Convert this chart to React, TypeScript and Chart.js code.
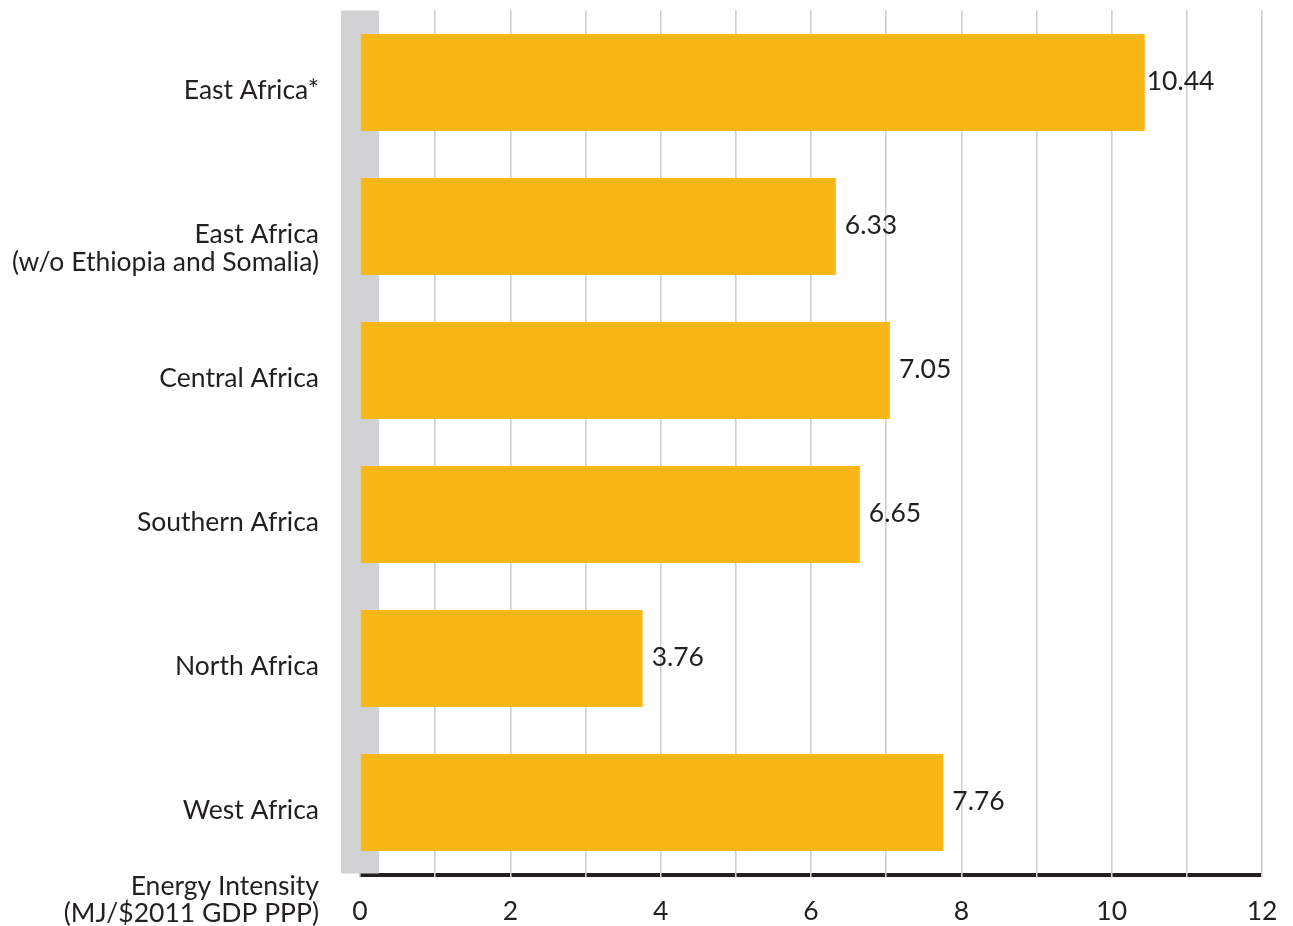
import React, { useEffect, useRef } from "react";
import { Chart, registerables } from "chart.js";

Chart.register(...registerables);

const categories: string[][] = [
  ["East Africa*"],
  ["East Africa", "(w/o Ethiopia and Somalia)"],
  ["Central Africa"],
  ["Southern Africa"],
  ["North Africa"],
  ["West Africa"],
];
const values: number[] = [10.44, 6.33, 7.05, 6.65, 3.76, 7.76];
const valueLabels: string[] = ["10.44", "6.33", "7.05", "6.65", "3.76", "7.76"];
const axisTitle: string[] = ["Energy Intensity", "(MJ/$2011 GDP PPP)"];
const xMin = 0;
const xMax = 12;

const FONT = "Lato, 'Noto Sans', sans-serif";
const FS = 26.5;
const TEXT = "#231f20";
const BAR = "#fbb617";
const BAND = "#d1d2d4";
const GRID = "#cfcfcf";

const customPlugin = {
  id: "custom",
  beforeDraw(chart: any) {
    const { ctx, chartArea, scales } = chart;
    const x = scales.x;
    ctx.save();
    ctx.strokeStyle = TEXT;
    ctx.lineWidth = 4;
    ctx.beginPath();
    ctx.moveTo(x.getPixelForValue(xMin), chartArea.bottom + 0.5);
    ctx.lineTo(x.getPixelForValue(xMax), chartArea.bottom + 0.5);
    ctx.stroke();
    ctx.restore();
  },
  beforeDatasetsDraw(chart: any) {
    const { ctx, chartArea, scales } = chart;
    const x0 = scales.x.getPixelForValue(0);
    ctx.save();
    ctx.fillStyle = BAND;
    ctx.fillRect(x0 - 19, chartArea.top, 38, chartArea.bottom - chartArea.top - 1);
    ctx.restore();
  },
  afterDatasetsDraw(chart: any) {
    const { ctx, chartArea, scales } = chart;
    const meta = chart.getDatasetMeta(0);
    ctx.save();
    ctx.font = `${FS}px ${FONT}`;
    ctx.fillStyle = TEXT;
    ctx.textBaseline = "middle";
    ctx.textAlign = "left";
    meta.data.forEach((bar: any, i: number) => {
      const txt = valueLabels[i];
      const w = ctx.measureText(txt).width;
      let tx = bar.x + 9;
      const limit = chartArea.right - 50;
      if (tx + w > limit) tx = Math.max(bar.x + 2, limit - w);
      ctx.fillText(txt, tx, bar.y - 1);
    });
    // category labels
    ctx.textAlign = "right";
    ctx.textBaseline = "alphabetic";
    const y = scales.y;
    categories.forEach((lines, i) => {
      const cy = y.getPixelForValue(i);
      lines.forEach((ln, j) => {
        ctx.fillText(ln, chartArea.left - 41, cy + 16.5 + j * 28);
      });
    });
    // axis title
    axisTitle.forEach((ln, j) => {
      ctx.fillText(ln, chartArea.left - 41, chartArea.bottom + 20 + j * 27);
    });
    ctx.restore();
  },
};

export default function App() {
  const ref = useRef<HTMLCanvasElement | null>(null);
  useEffect(() => {
    if (!ref.current) return;
    const chart = new Chart(ref.current, {
      type: "bar",
      data: {
        labels: categories.map((c) => c.join(" ")),
        datasets: [
          {
            data: values,
            backgroundColor: BAR,
            borderWidth: 0,
            categoryPercentage: 1,
            barPercentage: 0.674,
          },
        ],
      },
      options: {
        indexAxis: "y",
        animation: false,
        responsive: true,
        maintainAspectRatio: false,
        layout: { padding: { top: 10.5, right: 31, left: 0, bottom: 0 } },
        plugins: {
          legend: { display: false },
          tooltip: { enabled: false },
        },
        scales: {
          x: {
            min: xMin,
            max: xMax,
            position: "bottom",
            border: { display: false },
            grid: {
              color: GRID,
              lineWidth: 1.6,
              drawTicks: true,
              tickLength: 3,
              tickColor: GRID,
            },
            ticks: {
              stepSize: 1,
              autoSkip: false,
              maxRotation: 0,
              padding: 18,
              color: TEXT,
              font: { family: FONT, size: FS },
              callback: (v: any) => (Number(v) % 2 === 0 ? String(v) : ""),
            },
            afterFit: (s: any) => {
              s.height = 51.5;
              s.paddingLeft = 0;
              s.paddingRight = 0;
            },
          },
          y: {
            border: { display: false },
            grid: { display: false, drawTicks: false },
            ticks: { display: false },
            afterFit: (s: any) => {
              s.width = 360;
            },
          },
        },
      },
      plugins: [customPlugin],
    });
    return () => chart.destroy();
  }, []);
  return (
    <div style={{ position: "fixed", left: 0, top: 0, width: 1293, height: 926, background: "#fff" }}>
      <canvas ref={ref} />
    </div>
  );
}
